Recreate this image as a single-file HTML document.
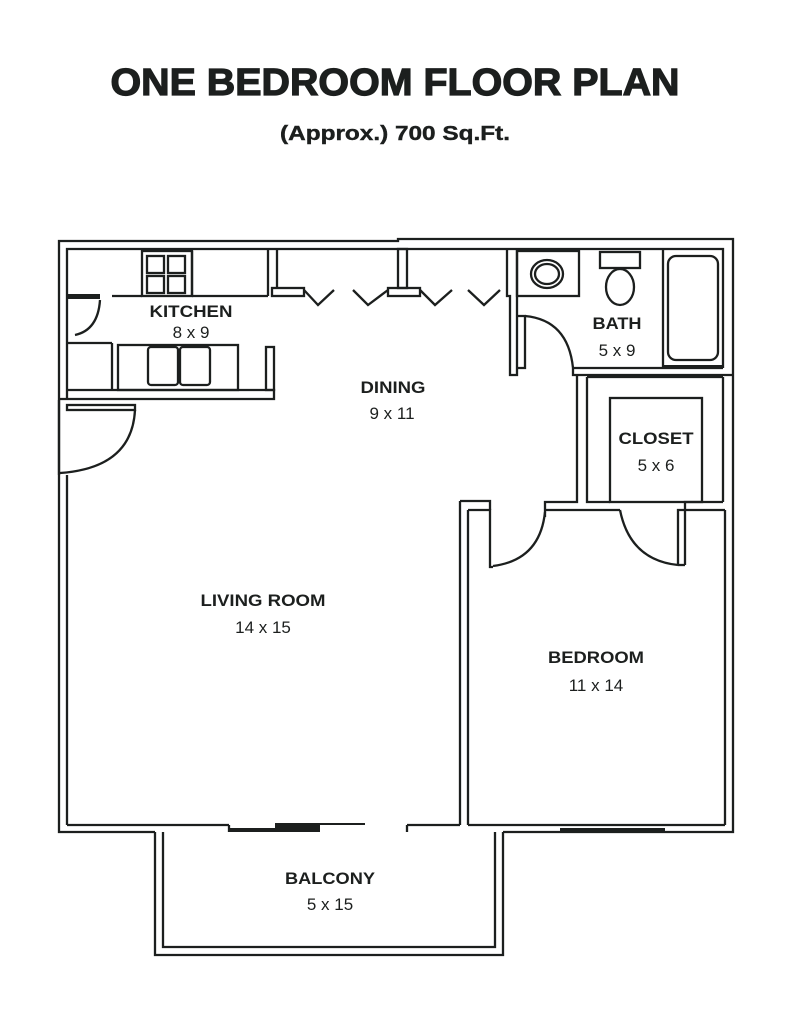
<!DOCTYPE html>
<html><head><meta charset="utf-8"><style>
html,body{margin:0;padding:0;background:#fff;}
svg{display:block;}
text{font-family:"Liberation Sans",Arial,sans-serif;fill:#1c1f1e;}
.l{font-weight:bold;font-size:17px;}
.d{font-size:17px;}
</style></head><body>
<svg width="791" height="1024" viewBox="0 0 791 1024" xmlns="http://www.w3.org/2000/svg">
<text x="395" y="95" text-anchor="middle" font-size="38" font-weight="bold" stroke="#1c1f1e" stroke-width="1.2" textLength="569" lengthAdjust="spacingAndGlyphs">ONE BEDROOM FLOOR PLAN</text>
<text x="395" y="140" text-anchor="middle" font-size="20" font-weight="bold" stroke="#1c1f1e" stroke-width="0.4" textLength="230" lengthAdjust="spacingAndGlyphs">(Approx.) 700 Sq.Ft.</text>

<g fill="none" stroke="#1c1f1e" stroke-width="2.3">
<polyline points="59,475 59,241 398,241 398,239 733,239 733,832 503,832"/>
<polyline points="155,832 59,832 59,475"/>
<polyline points="67,400 67,249 723,249 723,368"/>
<line x1="67" y1="475" x2="67" y2="825"/>
<line x1="59" y1="400" x2="59" y2="475"/>
<line x1="67" y1="825" x2="229" y2="825"/>
<line x1="229" y1="825" x2="229" y2="832"/>
<line x1="407" y1="825" x2="460" y2="825"/>
<line x1="407" y1="825" x2="407" y2="832"/>
<line x1="460" y1="825" x2="460" y2="501"/>
<line x1="468" y1="825" x2="468" y2="510"/>
<line x1="468" y1="825" x2="725" y2="825"/>
<line x1="725" y1="510" x2="725" y2="825"/>
<polyline points="155,832 155,955 503,955 503,832"/>
<polyline points="163,832 163,947 495,947 495,832"/>
<polyline points="67,296 100,296"/>
<line x1="112" y1="296" x2="142" y2="296"/>
<rect x="142" y="251" width="50" height="45"/>
<line x1="192" y1="296" x2="268" y2="296"/>
<line x1="192" y1="251" x2="192" y2="296"/>
<line x1="268" y1="249" x2="268" y2="296"/>
<rect x="147" y="256" width="17" height="17"/><rect x="168" y="256" width="17" height="17"/>
<rect x="147" y="276" width="17" height="17"/><rect x="168" y="276" width="17" height="17"/>
<path d="M100,300 Q98,330 75,335"/>
<line x1="67" y1="343" x2="112" y2="343"/>
<line x1="112" y1="343" x2="112" y2="390"/>
<rect x="118" y="345" width="120" height="45"/>
<rect x="148" y="347" width="30" height="38" rx="3"/>
<rect x="180" y="347" width="30" height="38" rx="3"/>
<rect x="266" y="347" width="8" height="43"/>
<polyline points="67,390 274,390 274,399 59,399"/>
<rect x="67" y="405" width="68" height="5"/>
<path d="M135,410 Q132,468 60,473"/>
<line x1="277" y1="249" x2="277" y2="288"/>
<rect x="272" y="288" width="32" height="8"/>
<rect x="398" y="249" width="9" height="39"/>
<rect x="388" y="288" width="32" height="8"/>
<line x1="507" y1="249" x2="507" y2="288"/>
<polyline points="304,290 318,305 334,290"/>
<polyline points="353,290 368,305 388,290"/>
<polyline points="420,290 435,305 452,290"/>
<polyline points="468,290 484,305 500,290"/>
<polyline points="507,288 507,296 510,296 510,375 517,375 517,249"/>
<polyline points="517,316 525,316 525,368 517,368"/>
<path d="M525,316 Q568,320 573,368"/>
<rect x="517" y="251" width="62" height="45"/>
<ellipse cx="547" cy="274" rx="16" ry="14"/>
<ellipse cx="547" cy="274" rx="12" ry="10"/>
<rect x="600" y="252" width="40" height="16"/>
<ellipse cx="620" cy="287" rx="14" ry="18"/>
<line x1="663" y1="249" x2="663" y2="368"/>
<rect x="668" y="256" width="50" height="104" rx="8"/>
<polyline points="573,368 573,375 733,375"/>
<line x1="573" y1="368" x2="723" y2="368"/>
<polyline points="577,375 577,502 545,502 545,510"/>
<polyline points="587,377 587,502 610,502"/>
<line x1="587" y1="377" x2="723" y2="377"/>
<line x1="723" y1="377" x2="723" y2="502"/>
<rect x="610" y="398" width="92" height="104"/>
<line x1="545" y1="510" x2="620" y2="510"/>
<polyline points="678,565 678,510 725,510"/>
<polyline points="685,565 685,502 723,502"/>
<line x1="678" y1="565" x2="685" y2="565"/>
<polyline points="460,501 490,501 490,510"/>
<polyline points="468,510 490,510 490,567 493,567"/>
<polyline points="545,510 545,517"/>
<path d="M545,512 Q540,560 493,566"/>
<path d="M620,510 Q630,560 678,565"/>
</g>
<g fill="#1c1f1e">
<rect x="67" y="294" width="33" height="5"/>
<rect x="663" y="365" width="60" height="4"/>
<rect x="229" y="828" width="91" height="4"/>
<rect x="275" y="823" width="45" height="5"/>
<rect x="320" y="823" width="45" height="2"/>
<rect x="560" y="828" width="105" height="4"/>
</g>

<text class="l" x="191" y="317" text-anchor="middle" textLength="83" lengthAdjust="spacingAndGlyphs">KITCHEN</text>
<text class="d" x="191" y="338" text-anchor="middle">8 x 9</text>
<text class="l" x="617" y="329" text-anchor="middle" textLength="49" lengthAdjust="spacingAndGlyphs">BATH</text>
<text class="d" x="617" y="356" text-anchor="middle">5 x 9</text>
<text class="l" x="393" y="393" text-anchor="middle" textLength="65" lengthAdjust="spacingAndGlyphs">DINING</text>
<text class="d" x="392" y="419" text-anchor="middle">9 x 11</text>
<text class="l" x="656" y="444" text-anchor="middle" textLength="75" lengthAdjust="spacingAndGlyphs">CLOSET</text>
<text class="d" x="656" y="471" text-anchor="middle">5 x 6</text>
<text class="l" x="263" y="606" text-anchor="middle" textLength="125" lengthAdjust="spacingAndGlyphs">LIVING ROOM</text>
<text class="d" x="263" y="633" text-anchor="middle">14 x 15</text>
<text class="l" x="596" y="663" text-anchor="middle" textLength="96" lengthAdjust="spacingAndGlyphs">BEDROOM</text>
<text class="d" x="596" y="691" text-anchor="middle">11 x 14</text>
<text class="l" x="330" y="884" text-anchor="middle" textLength="90" lengthAdjust="spacingAndGlyphs">BALCONY</text>
<text class="d" x="330" y="910" text-anchor="middle">5 x 15</text>
</svg>
</body></html>
